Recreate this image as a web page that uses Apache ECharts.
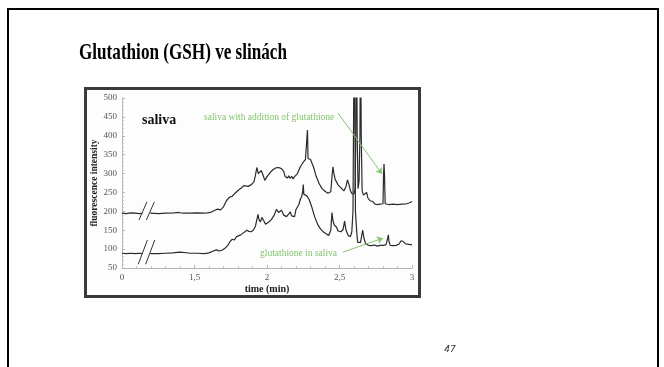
<!DOCTYPE html>
<html>
<head>
<meta charset="utf-8">
<script src="https://cdn.jsdelivr.net/npm/echarts@6/dist/echarts.min.js"></script>
<style>
  html, body { margin: 0; padding: 0; background: #fff; }
  #main { width: 664px; height: 367px; }
</style>
</head>
<body>
<div id="main"></div>
<script>
// time axis: value 1 is drawn as "0" (axis is broken before 1,5 min)
const xTicks = [1, 1.5, 2, 2.5, 3];
const xTickLabels = ['0', '1,5', '2', '2,5', '3'];
const yTicks = [50, 100, 150, 200, 250, 300, 350, 400, 450, 500];

// saliva with addition of glutathione (upper trace)
const addedBefore = [[1.00, 195], [1.03, 194], [1.06, 196], [1.09, 195], [1.12, 194], [1.14, 195]];
const addedAfter = [
  [1.195, 195], [1.25, 194], [1.30, 195], [1.36, 196], [1.39, 197], [1.42, 195], [1.47, 195],
  [1.52, 196], [1.57, 195], [1.61, 197], [1.64, 203], [1.66, 206], [1.68, 204], [1.70, 212],
  [1.72, 228], [1.74, 237], [1.76, 240], [1.78, 248], [1.80, 255], [1.82, 261], [1.84, 268],
  [1.85, 273], [1.87, 266], [1.89, 270], [1.91, 278], [1.92, 295], [1.93, 316], [1.94, 300],
  [1.95, 297], [1.96, 308], [1.97, 299], [1.985, 282], [2.00, 292], [2.02, 302], [2.04, 310],
  [2.06, 315], [2.08, 316], [2.10, 313], [2.115, 306], [2.125, 292], [2.14, 288], [2.15, 294],
  [2.16, 287], [2.17, 293], [2.18, 286], [2.19, 292], [2.20, 295], [2.21, 300], [2.23, 318],
  [2.25, 330], [2.265, 337], [2.275, 340], [2.279, 415], [2.283, 340], [2.29, 341], [2.30, 337],
  [2.32, 318], [2.34, 292], [2.36, 273], [2.38, 260], [2.40, 253], [2.42, 248], [2.44, 252],
  [2.45, 300], [2.455, 318], [2.46, 303], [2.47, 284], [2.48, 278], [2.49, 270], [2.51, 262],
  [2.53, 254], [2.545, 266], [2.555, 283], [2.565, 272], [2.575, 255], [2.585, 247], [2.60, 246],
  [2.608, 260], [2.612, 400], [2.617, 700], [2.622, 400], [2.628, 260], [2.635, 280], [2.641, 400],
  [2.645, 700], [2.65, 400], [2.656, 255], [2.665, 243], [2.678, 238], [2.687, 250], [2.695, 236],
  [2.71, 228], [2.73, 226], [2.745, 219], [2.76, 218], [2.78, 219], [2.80, 220], [2.804, 300],
  [2.807, 325], [2.81, 300], [2.815, 220], [2.84, 218], [2.87, 219], [2.90, 218], [2.93, 219],
  [2.96, 220], [2.98, 222], [3.00, 226]
];

// glutathione in saliva (lower trace)
const salivaBefore = [[1.00, 89], [1.03, 88], [1.06, 89], [1.09, 88], [1.12, 89], [1.14, 88]];
const salivaAfter = [
  [1.195, 88], [1.25, 88], [1.30, 89], [1.35, 90], [1.40, 92], [1.43, 91], [1.47, 89], [1.52, 89],
  [1.57, 88], [1.60, 90], [1.63, 95], [1.65, 98], [1.67, 95], [1.69, 97], [1.71, 102], [1.73, 110],
  [1.745, 120], [1.76, 126], [1.775, 124], [1.79, 133], [1.80, 130], [1.815, 137], [1.83, 141],
  [1.845, 145], [1.86, 150], [1.875, 147], [1.89, 146], [1.905, 150], [1.92, 160], [1.93, 178],
  [1.938, 192], [1.945, 178], [1.955, 172], [1.965, 184], [1.975, 177], [1.99, 166], [2.01, 171],
  [2.03, 178], [2.05, 190], [2.065, 205], [2.072, 208], [2.08, 197], [2.09, 200], [2.10, 203],
  [2.115, 190], [2.135, 186], [2.15, 193], [2.16, 199], [2.17, 188], [2.19, 186], [2.20, 205],
  [2.21, 201], [2.22, 218], [2.23, 232], [2.24, 240], [2.247, 255], [2.25, 271], [2.254, 245],
  [2.265, 244], [2.275, 241], [2.29, 232], [2.31, 210], [2.33, 184], [2.35, 165], [2.37, 153],
  [2.39, 145], [2.41, 140], [2.425, 136], [2.44, 150], [2.448, 197], [2.455, 175], [2.465, 163],
  [2.48, 158], [2.49, 148], [2.51, 146], [2.525, 152], [2.535, 174], [2.545, 150], [2.56, 136],
  [2.575, 133], [2.585, 146], [2.593, 200], [2.598, 500], [2.601, 700], [2.605, 500], [2.61, 200],
  [2.618, 150], [2.625, 118], [2.635, 115], [2.645, 118], [2.655, 140], [2.66, 150], [2.668, 130],
  [2.68, 114], [2.70, 110], [2.72, 109], [2.74, 111], [2.76, 108], [2.78, 110], [2.80, 110],
  [2.82, 111], [2.833, 130], [2.837, 138], [2.841, 120], [2.85, 110], [2.87, 109], [2.89, 110],
  [2.91, 113], [2.925, 122], [2.932, 127], [2.94, 120], [2.955, 114], [2.97, 113], [2.985, 112],
  [3.00, 112]
];

// "//" marks where the time axis is cut
const breakMarksUpper = [[[1.117, 177], [1.172, 225]], [[1.168, 177], [1.223, 225]]];
const breakMarksLower = [[[1.112, 60], [1.175, 124]], [[1.163, 60], [1.226, 124]]];
// annotation arrows [from, to]
const arrowAdded = [[2.49, 460], [2.793, 299]];
const arrowSaliva = [[2.524, 92], [2.80, 129]];

const serif = '"Liberation Serif", "Times New Roman", serif';
const green = '#84c46e';
const traceColor = '#2a2a2a';

function marks(pairs) {
  return pairs.map(p => [{ coord: p[0] }, { coord: p[1] }]);
}
function arrow(p) {
  return [{ coord: p[0], symbol: 'none' }, { coord: p[1], symbol: 'arrow', symbolSize: 6 }];
}

// title is a condensed bold serif; squeeze it to the measured width
const titleText = 'Glutathion (GSH) ve slinách';
const titleFont = 'bold 23px ' + serif;
const cvs = document.createElement('canvas').getContext('2d');
cvs.font = titleFont;
const titleScale = 208 / cvs.measureText(titleText).width;

const chart = echarts.init(document.getElementById('main'));

const option = {
  backgroundColor: '#ffffff',
  animation: false,
  grid: { left: 122, top: 98, width: 290, height: 170 },
  xAxis: {
    type: 'value',
    min: 1,
    max: 3,
    interval: 0.5,
    name: 'time (min)',
    nameLocation: 'middle',
    nameGap: 16,
    nameTextStyle: { fontFamily: serif, fontWeight: 'bold', fontSize: 10, color: '#222' },
    axisLine: { lineStyle: { color: '#b5b5b5', width: 1 } },
    axisTick: { inside: true, length: 3, lineStyle: { color: '#b5b5b5' } },
    minorTick: { show: true, splitNumber: 5, length: 2, lineStyle: { color: '#c5c5c5' } },
    splitLine: { show: false },
    axisLabel: {
      fontFamily: serif, fontSize: 9, color: '#555', margin: 5,
      showMinLabel: true, showMaxLabel: true,
      formatter: v => {
        const i = xTicks.findIndex(t => Math.abs(t - v) < 1e-6);
        return i >= 0 ? xTickLabels[i] : '';
      }
    }
  },
  yAxis: {
    type: 'value',
    min: yTicks[0],
    max: yTicks[yTicks.length - 1],
    interval: 50,
    name: 'fluorescence intensity',
    nameLocation: 'middle',
    nameGap: 20,
    nameTextStyle: { fontFamily: serif, fontWeight: 'bold', fontSize: 9.5, color: '#222' },
    axisLine: { show: true, lineStyle: { color: '#b5b5b5', width: 1 } },
    axisTick: { show: true, inside: true, length: 3, lineStyle: { color: '#b5b5b5' } },
    minorTick: { show: true, splitNumber: 5, length: 2, lineStyle: { color: '#c5c5c5' } },
    splitLine: { show: false },
    axisLabel: { fontFamily: serif, fontSize: 9, color: '#555', margin: 5 }
  },
  series: [
    {
      name: 'saliva with addition of glutathione',
      type: 'line',
      showSymbol: false,
      connectNulls: false,
      lineStyle: { color: traceColor, width: 1.2 },
      data: addedBefore.concat([[1.17, '-']], addedAfter),
      markLine: {
        silent: true,
        symbol: ['none', 'none'],
        label: { show: false },
        lineStyle: { color: '#333', width: 1, type: 'solid' },
        emphasis: { disabled: true },
        data: marks(breakMarksUpper)
      }
    },
    {
      name: 'glutathione in saliva',
      type: 'line',
      showSymbol: false,
      connectNulls: false,
      lineStyle: { color: traceColor, width: 1.2 },
      data: salivaBefore.concat([[1.17, '-']], salivaAfter),
      markLine: {
        silent: true,
        symbol: ['none', 'none'],
        label: { show: false },
        lineStyle: { color: '#333', width: 1, type: 'solid' },
        emphasis: { disabled: true },
        data: marks(breakMarksLower)
      }
    },
    {
      // annotation arrows only
      type: 'line',
      data: [],
      markLine: {
        silent: true,
        symbol: ['none', 'none'],
        label: { show: false },
        lineStyle: { color: green, width: 1, type: 'solid' },
        itemStyle: { color: green },
        emphasis: { disabled: true },
        data: [arrow(arrowAdded), arrow(arrowSaliva)]
      }
    }
  ],
  graphic: [
    // slide border
    {
      type: 'rect', z: -10, silent: true,
      shape: { x: 8, y: 9, width: 650, height: 420 },
      style: { fill: 'none', stroke: '#000', lineWidth: 2 }
    },
    // picture frame
    {
      type: 'rect', z: -9, silent: true,
      shape: { x: 85.5, y: 88.5, width: 334, height: 208 },
      style: { fill: '#fdfdfd', stroke: '#3a3a3a', lineWidth: 3 }
    },
    {
      type: 'text', silent: true, x: 79, y: 53, scaleX: titleScale,
      style: { text: titleText, font: titleFont, fill: '#000', textAlign: 'left', textVerticalAlign: 'middle' }
    },
    {
      type: 'text', silent: true, x: 142, y: 120,
      style: { text: 'saliva', font: 'bold 14px ' + serif, fill: '#111', textVerticalAlign: 'middle' }
    },
    {
      type: 'text', silent: true, x: 204, y: 117,
      style: { text: 'saliva with addition of glutathione', font: '9.5px ' + serif, fill: green, textVerticalAlign: 'middle' }
    },
    {
      type: 'text', silent: true, x: 260, y: 253,
      style: { text: 'glutathione in saliva', font: '9.5px ' + serif, fill: green, textVerticalAlign: 'middle' }
    },
    {
      type: 'text', silent: true, x: 450, y: 350,
      style: { text: '47', font: 'italic 9px "DejaVu Sans", sans-serif', fill: '#333', textAlign: 'center', textVerticalAlign: 'middle' }
    }
  ]
};

chart.setOption(option);
</script>
</body>
</html>
